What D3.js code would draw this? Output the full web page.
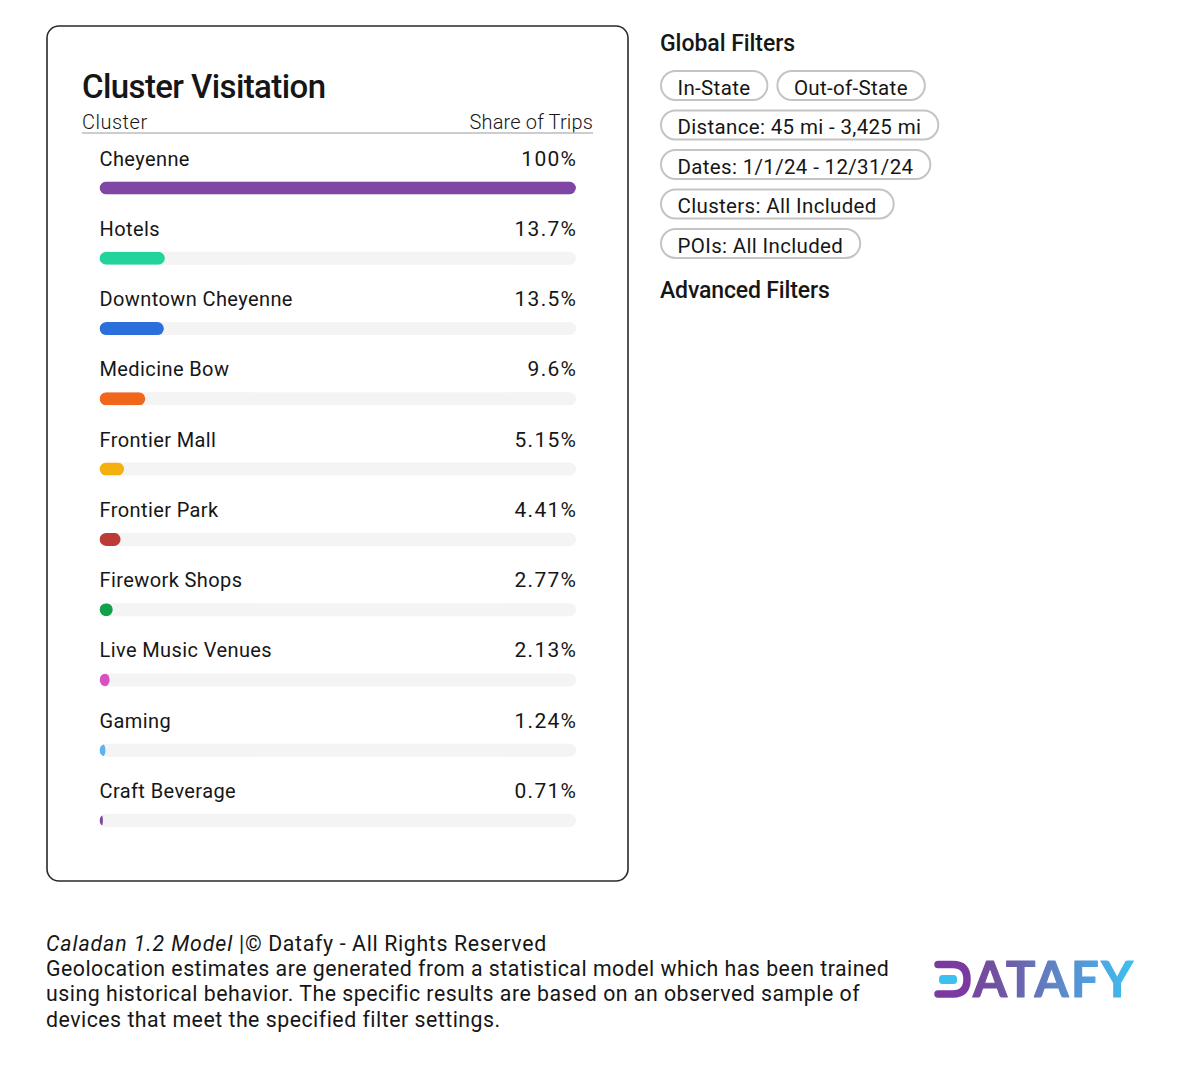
<!DOCTYPE html>
<html><head><meta charset="utf-8">
<script src="https://cdn.jsdelivr.net/npm/d3@7"></script>
<style>html,body{margin:0;background:#fff}svg{display:block}text{font-family:Roboto,sans-serif;fill:#161616}</style>
</head><body><div id="c"></div>
<script>
const categories=["Cheyenne","Hotels","Downtown Cheyenne","Medicine Bow","Frontier Mall","Frontier Park","Firework Shops","Live Music Venues","Gaming","Craft Beverage"];
const shares=[100,13.7,13.5,9.6,5.15,4.41,2.77,2.13,1.24,0.71];
const shareLabels=["100%","13.7%","13.5%","9.6%","5.15%","4.41%","2.77%","2.13%","1.24%","0.71%"];
const colors=["#7f46a4","#22d39b","#2a6fdb","#f0661a","#f2b10f","#bd3b36","#12a14b","#d94fc4","#5cb3f0","#7f46a4"];
const filterRows=[["In-State","Out-of-State"],["Distance: 45 mi - 3,425 mi"],["Dates: 1/1/24 - 12/31/24"],["Clusters: All Included"],["POIs: All Included"]];
const footer=["Geolocation estimates are generated from a statistical model which has been trained","using historical behavior. The specific results are based on an observed sample of","devices that meet the specified filter settings."];

const svg=d3.select("#c").append("svg").attr("width",1200).attr("height",1086);
const defs=svg.append("defs");
const x=d3.scaleLinear().domain([0,100]).range([99.5,576]);
const y=d3.scalePoint().domain(categories).range([159,791.5]);
const barH=13;
const T=(s,px,py,size,w,anchor,ls)=>svg.append("text").attr("x",px).attr("y",py).attr("font-size",size).attr("font-weight",w||400).attr("text-anchor",anchor||"start").attr("letter-spacing",ls||0).text(s);

svg.append("rect").attr("x",47).attr("y",26).attr("width",581).attr("height",855).attr("rx",12).attr("fill","#fff").attr("stroke","#26292e").attr("stroke-width",1.6);
T("Cluster Visitation",82,98,33,500,"start",-.6);
T("Cluster",82,129,20,300,"start",.5);
T("Share of Trips",593,129,20,300,"end",.15);
svg.append("line").attr("x1",82).attr("x2",593).attr("y1",133).attr("y2",133).attr("stroke","#bdbdbd").attr("stroke-width",1.6);

const rows=svg.selectAll("g.row").data(categories).join("g").attr("class","row").attr("transform",d=>`translate(0,${y(d)})`);
rows.append("clipPath").attr("id",(d,i)=>"cp"+i).append("rect").attr("x",x(0)).attr("y",22.5).attr("width",x(100)-x(0)).attr("height",barH).attr("rx",barH/2);
rows.append("rect").attr("x",x(0)).attr("y",22.5).attr("width",x(100)-x(0)).attr("height",barH).attr("rx",barH/2).attr("fill","#f4f4f4");
rows.append("rect").attr("clip-path",(d,i)=>`url(#cp${i})`).attr("x",x(0)).attr("y",22.5).attr("width",(d,i)=>x(shares[i])-x(0)).attr("height",barH).attr("rx",barH/2).attr("fill",(d,i)=>colors[i]);
rows.append("text").attr("x",x(0)).attr("y",6.5).attr("font-size",20).attr("letter-spacing",.4).text(d=>d);
rows.append("text").attr("x",x(100)+1.3).attr("y",6.5).attr("font-size",21).attr("letter-spacing",1.3).attr("text-anchor","end").text((d,i)=>shareLabels[i]);

T("Global Filters",660,51,23,500,"start",-.05);
const pillY=d3.scalePoint().domain(d3.range(filterRows.length)).range([71,229]);
filterRows.forEach((row,r)=>{
  let px=661;
  row.forEach(label=>{
    const g=svg.append("g");
    const t=g.append("text").attr("x",px+16.5).attr("y",pillY(r)+23.5).attr("font-size",20.5).attr("letter-spacing",.34).text(label);
    const w=t.node().getComputedTextLength()+33.5;
    g.insert("rect","text").attr("x",px).attr("y",pillY(r)).attr("width",w).attr("height",29).attr("rx",14.5).attr("fill","#fff").attr("stroke","#c4c4c4").attr("stroke-width",2);
    px+=w+10;
  });
});
T("Advanced Filters",660,298,23,500,"start",-.15);

const f=svg.append("text").attr("x",46).attr("y",951).attr("font-size",21.3);
f.append("tspan").attr("font-style","italic").attr("letter-spacing",.9).text("Caladan 1.2 Model");
f.append("tspan").attr("letter-spacing",.65).text(" |© Datafy - All Rights Reserved");
footer.forEach((s,i)=>T(s,46,976+i*25.4,21.3,400,"start",.5));

const grad=defs.append("linearGradient").attr("id","lg").attr("gradientUnits","userSpaceOnUse").attr("x1",935).attr("x2",1133).attr("y1",0).attr("y2",0);
[[0,"#7b3a9f"],[.3,"#72509f"],[.6,"#5f84c4"],[.8,"#4fa0e0"],[1,"#3cc0ee"]].forEach(([o,c])=>grad.append("stop").attr("offset",o).attr("stop-color",c));
const logo=svg.append("g");
logo.append("path").attr("d","M938 964.5H953Q967 964.5 967 979.3Q967 994 953 994H938").attr("fill","none").attr("stroke","#7b3a9f").attr("stroke-width",7.5).attr("stroke-linecap","round");
logo.append("rect").attr("x",939).attr("y",975).attr("width",18).attr("height",9).attr("rx",3.5).attr("fill","#3cc0ee");
logo.append("text").attr("x",973).attr("y",997).attr("font-size",49).attr("font-weight",700).attr("textLength",160).attr("lengthAdjust","spacing").style("fill","url(#lg)").style("stroke","url(#lg)").style("stroke-width",1.2).style("stroke-linejoin","round").style("font-family","Lato").text("ATAFY");
</script></body></html>
